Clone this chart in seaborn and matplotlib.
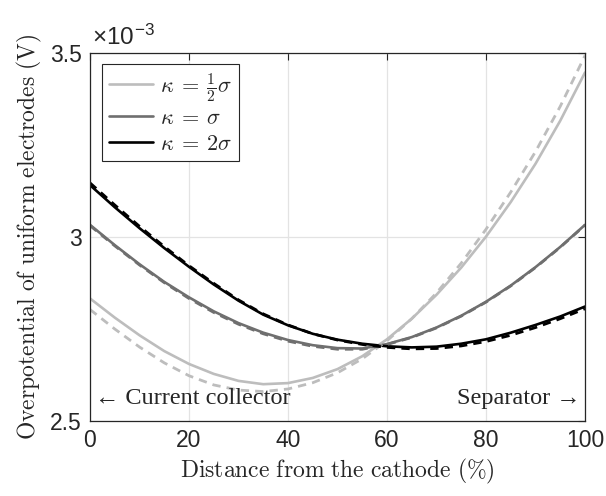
import numpy as np
import pandas as pd
import seaborn as sns
import matplotlib
matplotlib.use("Agg")
import matplotlib.pyplot as plt
from matplotlib.lines import Line2D

# ---- data (overpotential in units of 1e-3 V) ----
x_pct = [0, 5, 10, 15, 20, 25, 30, 35, 40, 45, 50, 55, 60, 65, 70, 75, 80, 85, 90, 95, 100]

half_solid = [2.833, 2.781, 2.733, 2.690, 2.655, 2.628, 2.609, 2.600, 2.603, 2.617, 2.641,
              2.676, 2.722, 2.778, 2.843, 2.917, 3.001, 3.095, 3.199, 3.316, 3.447]
half_dashed = [2.803, 2.750, 2.701, 2.658, 2.623, 2.598, 2.584, 2.580, 2.587, 2.604, 2.631,
               2.669, 2.718, 2.778, 2.848, 2.929, 3.021, 3.122, 3.232, 3.355, 3.493]
one_solid = [3.033, 2.978, 2.926, 2.878, 2.836, 2.798, 2.766, 2.740, 2.720, 2.706, 2.698,
             2.697, 2.709, 2.728, 2.754, 2.786, 2.824, 2.868, 2.918, 2.973, 3.033]
one_dashed = [3.031, 2.976, 2.924, 2.876, 2.833, 2.795, 2.763, 2.737, 2.717, 2.703, 2.695,
              2.695, 2.708, 2.727, 2.753, 2.785, 2.823, 2.867, 2.917, 2.972, 3.032]
two_solid = [3.141, 3.081, 3.024, 2.970, 2.919, 2.871, 2.827, 2.789, 2.760, 2.737, 2.721,
             2.710, 2.703, 2.700, 2.702, 2.710, 2.722, 2.740, 2.761, 2.784, 2.811]
two_dashed = [3.147, 3.087, 3.029, 2.974, 2.922, 2.874, 2.829, 2.791, 2.761, 2.737, 2.720,
              2.708, 2.700, 2.696, 2.697, 2.704, 2.716, 2.733, 2.754, 2.778, 2.805]

legend_labels = [r'$\kappa\:=\:\frac{1}{2}\sigma$', r'$\kappa\:=\:\sigma$', r'$\kappa\:=\:2\sigma$']
x_ticks = [0, 20, 40, 60, 80, 100]
y_ticks = [2.5, 3, 3.5]
y_tick_labels = ['2.5', '3', '3.5']

sns.set_style("white")
plt.rcParams['mathtext.fontset'] = 'cm'
plt.rcParams['font.family'] = ['Liberation Sans', 'DejaVu Sans']

c_light = '#bdbdbd'
c_mid = '#6f6f6f'
c_dark = '#000000'

fig = plt.figure(figsize=(6.06, 4.96), dpi=100)
ax = fig.add_axes([90 / 606, 75 / 496, 495 / 606, 368 / 496])

solid = [(half_solid, c_light), (one_solid, c_mid), (two_solid, c_dark)]
dashed = [(half_dashed, c_light), (one_dashed, c_mid), (two_dashed, c_dark)]

for ys, c in solid:
    sns.lineplot(x=x_pct, y=ys, ax=ax, color=c, lw=1.9, legend=False)
for ys, c in dashed:
    sns.lineplot(x=x_pct, y=ys, ax=ax, color=c, lw=2.0, linestyle=(0, (3.0, 2.2)), legend=False)

ax.set_xlim(0, 100)
ax.set_ylim(2.5, 3.5)
ax.set_xticks(x_ticks)
ax.set_yticks(y_ticks)
ax.set_yticklabels(y_tick_labels)
ax.grid(True, color='#e3e3e3', lw=0.9)
ax.set_axisbelow(True)
ax.tick_params(direction='in', length=5, width=0.8, top=True, right=True,
               labelsize=16.5, colors='#262626', pad=6)
for s in ax.spines.values():
    s.set_color('#262626')
    s.set_linewidth(0.9)

ax.set_xlabel(r'$\mathrm{Distance\ from\ the\ cathode\ (\%)}$', fontsize=17, labelpad=3)
ax.set_ylabel(r'$\mathrm{Overpotential\ of\ uniform\ electrodes\ (V)}$', fontsize=17, labelpad=4)

ax.text(0.004, 1.008, r'×10$^{\mathregular{-3}}$', transform=ax.transAxes, fontsize=17.5,
        ha='left', va='bottom', color='#262626')

serif = ['Liberation Serif', 'DejaVu Serif']
ax.text(0.01, 0.033, '← Current collector', transform=ax.transAxes, fontsize=17.5,
        family=serif, ha='left', va='bottom')
ax.text(0.99, 0.033, 'Separator →', transform=ax.transAxes, fontsize=17.5,
        family=serif, ha='right', va='bottom')

handles = [Line2D([], [], color=c, lw=1.9) for c in (c_light, c_mid, c_dark)]
leg = ax.legend(handles, legend_labels, loc='upper left', fontsize=16, frameon=True,
                fancybox=False, edgecolor='#262626', framealpha=1, handlelength=2.0,
                handletextpad=0.3, borderpad=0.3, labelspacing=0.2,
                bbox_to_anchor=(0.024, 0.97), borderaxespad=0)
leg.get_frame().set_linewidth(0.8)

fig.savefig('out.png', dpi=100)
